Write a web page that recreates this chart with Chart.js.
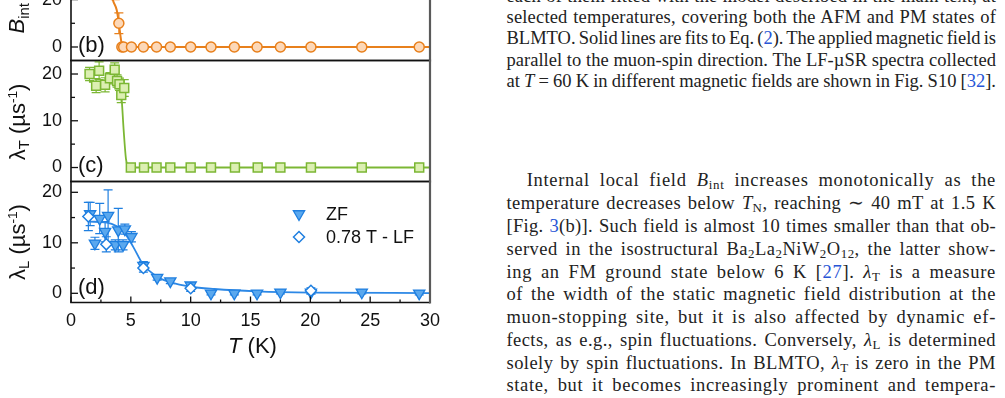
<!DOCTYPE html>
<html><head><meta charset="utf-8">
<script src="https://cdn.jsdelivr.net/npm/chart.js@4.4.1/dist/chart.umd.min.js"></script>
<style>
html,body{margin:0;padding:0;background:#fff;}
body{width:1005px;height:398px;overflow:hidden;position:relative;}
canvas{position:absolute;left:0;}
.lbl{position:absolute;font-family:"Liberation Sans",Arial,sans-serif;color:#111;white-space:nowrap;line-height:1;}
.rot{transform:translate(-50%,-50%) rotate(-90deg);}
.ctr{transform:translate(0,-50%);}
.lbl sub{font-size:0.68em;vertical-align:-0.3em;}
.lbl sup{font-size:0.62em;vertical-align:0.55em;}
.tx{position:absolute;font-family:"Liberation Serif","Times New Roman",serif;font-size:18.5px;line-height:18px;color:#222;white-space:nowrap;}
.tx sub{font-size:0.7em;vertical-align:-0.25em;line-height:0;}
.lk{color:#2855d6;}
</style></head>
<body>
<canvas id="cb" width="440" height="146" style="top:-80px"></canvas>
<canvas id="cc" width="440" height="132" style="top:55px"></canvas>
<canvas id="cd" width="440" height="160" style="top:176px"></canvas>

<div class="lbl rot" style="left:19px;top:-8px;font-size:22px"><i>B</i><sub>int</sub> (mT)</div>
<div class="lbl rot" style="left:19px;top:122px;font-size:22px">λ<sub>T</sub> (µs<sup>-1</sup>)</div>
<div class="lbl rot" style="left:19px;top:242px;font-size:22px">λ<sub>L</sub> (µs<sup>-1</sup>)</div>
<div class="lbl ctr" style="left:78px;top:45px;font-size:22px">(b)</div>
<div class="lbl ctr" style="left:78px;top:165px;font-size:22px">(c)</div>
<div class="lbl ctr" style="left:78px;top:287px;font-size:22px">(d)</div>
<div class="lbl" style="left:228px;top:335px;font-size:22px"><i>T</i> (K)</div>

<div id="txt"></div>

<script>
// ---------------- data ----------------
const xTicks = [0, 5, 10, 15, 20, 25, 30];
const xMinor = [2.5, 7.5, 12.5, 17.5, 22.5, 27.5];
const bTicks = [0, 20, 40];
const bMinor = [10, 30];
const cTicks = [0, 10, 20];
const cMinor = [5, 15];
const dTicks = [0, 10, 20];
const dMinor = [5, 15];

// (b) internal field B_int (mT)
const bT   = [1.5, 2.0, 2.5, 3.0, 3.4, 3.7, 4.0, 4.25, 4.4, 5.05, 6.05, 7.15, 8.3, 10.0, 11.7, 13.65, 15.55, 17.5, 20.05, 24.3, 29.1];
const bB   = [40.5, 39.0, 37.0, 34.5, 30.0, 24.5, 10.0, 0, 0, 0, 0, 0, 0, 0, 0, 0, 0, 0, 0, 0, 0];
const bErr = [1.5, 1.5, 1.8, 2.0, 3.0, 4.5, 4.4, 0, 0, 0, 0, 0, 0, 0, 0, 0, 0, 0, 0, 0, 0];
const bFitT = [1.5, 2.5, 3.0, 3.5, 3.82, 4.0, 4.18, 4.32, 30];
const bFitB = [40.5, 37.5, 32.5, 19.8, 15.6, 10.0, 3.0, 0, 0];

// (c) transverse relaxation rate lambda_T (us^-1)
const cT   = [1.55, 2.1, 2.35, 2.85, 3.25, 3.65, 3.85, 4.05, 4.2, 4.45, 5.0, 6.1, 7.15, 8.3, 10.0, 11.7, 13.7, 15.6, 17.5, 20.05, 24.3, 29.1];
const cL   = [20.0, 17.5, 20.7, 17.7, 19.1, 20.9, 18.5, 17.8, 15.5, 17.0, 0, 0, 0, 0, 0, 0, 0, 0, 0, 0, 0, 0];
const cErr = [1.4, 1.5, 1.9, 1.5, 1.2, 1.5, 1.3, 1.3, 1.6, 1.8, 0, 0, 0, 0, 0, 0, 0, 0, 0, 0, 0, 0];
const cFitT = [1.5, 3.5, 4.0, 4.15, 4.23, 4.4, 4.59, 4.7, 4.85, 30];
const cFitL = [18.3, 18.2, 17.6, 16.5, 14.8, 8.0, 1.9, 0.6, 0, 0];

// (d) longitudinal relaxation rate lambda_L (us^-1)
const dT   = [1.6, 2.0, 2.4, 2.85, 3.1, 3.7, 3.95, 4.35, 4.5, 5.05, 6.05, 7.2, 8.3, 10.0, 11.7, 13.65, 15.55, 17.5, 20.05, 24.3, 29.1];
const dL   = [15.7, 9.9, 14.8, 12.2, 15.4, 9.6, 12.5, 9.6, 12.7, 11.2, 5.5, 3.1, 2.4, 1.6, 0.0, 0.0, 0.0, 0.2, 0.2, 0.2, 0.0];
const dErr = [2.3, 1.2, 3.0, 2.0, 5.1, 1.0, 4.3, 1.0, 1.0, 1.0, 0.8, 0.5, 0.5, 0.5, 0.3, 0.3, 0.3, 0.3, 0.3, 0.3, 0.3];
const eT   = [1.45, 2.95, 6.05, 10.0, 20.05];
const eL   = [15.2, 9.7, 5.0, 1.0, 0.5];
const eErr = [2.8, 1.5, 0.8, 0.6, 0.6];
const dFitT = [1.5, 3.0, 3.8, 4.4, 5.2, 6.0, 7.2, 8.3, 10, 12, 15.5, 20, 30];
const dFitL = [14.2, 14.0, 13.3, 12.2, 9.2, 5.8, 3.3, 2.2, 1.3, 0.85, 0.4, 0.15, 0.05];

const legendLabels = ['ZF', '0.78 T - LF'];

// ---------------- helpers ----------------
const pts = (xs, ys) => xs.map((v, i) => ({x: v, y: ys[i]}));
Chart.defaults.font.family = '"Liberation Sans", Arial, sans-serif';
Chart.defaults.color = '#111';

const framePlugin = {
  id: 'frame',
  afterDraw(chart, args, o) {
    const {ctx, chartArea: a, scales} = chart;
    const ys = scales.y, xs = scales.x;
    ctx.save();
    ctx.strokeStyle = '#111';
    ctx.lineWidth = 1.3;
    const hl = (x1, y1, x2, y2) => { ctx.beginPath(); ctx.moveTo(x1, y1); ctx.lineTo(x2, y2); ctx.stroke(); };
    (o.yMajor || []).forEach(v => { const p = ys.getPixelForValue(v); if (p >= a.top && p <= a.bottom) hl(a.left, p, a.left + 7, p); });
    (o.yMinor || []).forEach(v => { const p = ys.getPixelForValue(v); if (p >= a.top && p <= a.bottom) hl(a.left, p, a.left + 4, p); });
    if (o.xAxis) {
      xTicks.forEach(v => { const p = xs.getPixelForValue(v); hl(p, a.bottom, p, a.bottom - 6); });
      xMinor.forEach(v => { const p = xs.getPixelForValue(v); hl(p, a.bottom, p, a.bottom - 3); });
    }
    ctx.lineWidth = 1.6;
    hl(a.left, a.top, a.left, a.bottom);
    hl(a.left - 0.8, a.bottom, a.right, a.bottom);
    hl(a.left - 0.8, a.top, a.right, a.top);
    ctx.strokeStyle = '#5a5a5a';
    ctx.lineWidth = 2.2;
    hl(a.right, a.top - 1, a.right, a.bottom + 1);
    ctx.restore();
  }
};

const errPlugin = {
  id: 'errbars',
  beforeDatasetsDraw(chart, args, o) {
    const {ctx, chartArea: a, scales: {x, y}} = chart;
    ctx.save();
    ctx.beginPath(); ctx.rect(a.left, a.top, a.right - a.left, a.bottom - a.top); ctx.clip();
    (o.sets || []).forEach(s => {
      ctx.strokeStyle = s.color; ctx.lineWidth = 1.2;
      s.xs.forEach((xv, i) => {
        const e = s.err[i]; if (!e) return;
        const px = x.getPixelForValue(xv);
        const p1 = y.getPixelForValue(s.ys[i] - e), p2 = y.getPixelForValue(s.ys[i] + e);
        ctx.beginPath();
        ctx.moveTo(px, p1); ctx.lineTo(px, p2);
        ctx.moveTo(px - 4.5, p1); ctx.lineTo(px + 4.5, p1);
        ctx.moveTo(px - 4.5, p2); ctx.lineTo(px + 4.5, p2);
        ctx.stroke();
      });
    });
    ctx.restore();
  }
};

const legendPlugin = {
  id: 'inlegend',
  afterDatasetsDraw(chart, args, o) {
    if (!o.items) return;
    const {ctx, chartArea: a} = chart;
    o.items.forEach((it, i) => {
      const px = a.left + o.dx, py = a.top + o.dy + i * o.gap;
      ctx.save();
      ctx.fillStyle = it.fill; ctx.strokeStyle = it.stroke; ctx.lineWidth = it.bw;
      Chart.helpers.drawPoint(ctx, {pointStyle: it.style, rotation: it.rot || 0, radius: it.r, borderWidth: it.bw}, px, py);
      ctx.fillStyle = '#111';
      ctx.font = '18px "Liberation Sans", Arial, sans-serif';
      ctx.textBaseline = 'middle';
      ctx.fillText(it.text, a.left + o.tx, py + 1);
      ctx.restore();
    });
  }
};

function makeChart(id, cfg) {
  return new Chart(document.getElementById(id), {
    type: 'scatter',
    data: {datasets: cfg.datasets},
    plugins: [errPlugin, framePlugin, legendPlugin],
    options: {
      responsive: false, animation: false,
      layout: {autoPadding: false, padding: {top: cfg.padTop, bottom: cfg.padBottom, left: 0, right: 10}},
      plugins: {
        legend: {display: false}, tooltip: {enabled: false},
        frame: {yMajor: cfg.yTicks, yMinor: cfg.yMinor, xAxis: cfg.showX},
        errbars: {sets: cfg.err},
        inlegend: cfg.legend || {}
      },
      scales: {
        x: {
          type: 'linear', min: 0, max: 30, display: cfg.showX,
          afterBuildTicks: s => { s.ticks = xTicks.map(v => ({value: v})); },
          afterFit: s => { if (cfg.xHeight) s.height = cfg.xHeight; s.paddingLeft = 0; s.paddingRight = 0; },
          grid: {display: false, drawTicks: false}, border: {display: false},
          ticks: {font: {size: 18}, color: '#111', padding: 8, maxRotation: 0, autoSkip: false}
        },
        y: {
          type: 'linear', min: cfg.yMin, max: cfg.yMax,
          afterBuildTicks: s => { s.ticks = cfg.yTicks.map(v => ({value: v})); },
          afterFit: s => { s.width = 71; s.paddingTop = 0; s.paddingBottom = 0; },
          grid: {display: false, drawTicks: false}, border: {display: false},
          ticks: {font: {size: 18}, color: '#111', padding: 9}
        }
      }
    }
  });
}

const ORANGE = '#e8801c', ORANGE_F = '#fcd8b8';
const GREEN = '#7cb734', GREEN_F = '#dcefb2';
const BLUE = '#1f7fe0', BLUE_F = '#5aa8ee', BLUE_L = '#2c88e6';

makeChart('cb', {
  padTop: 8.5, padBottom: 5.5, showX: false,
  yMin: -5.70, yMax: 50.0, yTicks: bTicks, yMinor: bMinor,
  err: [{xs: bT, ys: bB, err: bErr, color: ORANGE}],
  datasets: [
    {data: pts(bT, bB), pointStyle: 'circle', pointRadius: 5, backgroundColor: ORANGE_F, borderColor: ORANGE, borderWidth: 1.5, order: 1},
    {data: pts(bFitT, bFitB), showLine: true, pointRadius: 0, borderColor: ORANGE, borderWidth: 2, cubicInterpolationMode: 'monotone', order: 2}
  ]
});

makeChart('cc', {
  padTop: 5.5, padBottom: 5.5, showX: false,
  yMin: -2.99, yMax: 22.89, yTicks: cTicks, yMinor: cMinor,
  err: [{xs: cT, ys: cL, err: cErr, color: GREEN}],
  datasets: [
    {data: pts(cT, cL), pointStyle: 'rect', pointRadius: 6.3, backgroundColor: GREEN_F, borderColor: GREEN, borderWidth: 1.5, order: 1},
    {data: pts(cFitT, cFitL), showLine: true, pointRadius: 0, borderColor: GREEN, borderWidth: 1.8, cubicInterpolationMode: 'monotone', order: 2}
  ]
});

makeChart('cd', {
  padTop: 5.5, padBottom: 0, showX: true, xHeight: 33.5,
  yMin: -1.82, yMax: 22.14, yTicks: dTicks, yMinor: dMinor,
  err: [{xs: dT, ys: dL, err: dErr, color: BLUE}, {xs: eT, ys: eL, err: eErr, color: BLUE}],
  legend: {dx: 228, dy: 32.5, gap: 23, tx: 255, items: [
    {text: legendLabels[0], style: 'triangle', rot: 180, r: 6.5, fill: BLUE_F, stroke: BLUE, bw: 1.3},
    {text: legendLabels[1], style: 'rectRot', r: 5.5, fill: '#fff', stroke: BLUE, bw: 1.5}
  ]},
  datasets: [
    {data: pts(eT, eL), pointStyle: 'rectRot', pointRadius: 5.5, backgroundColor: '#fff', borderColor: BLUE, borderWidth: 1.5, order: 1},
    {data: pts(dT, dL), pointStyle: 'triangle', rotation: 180, pointRadius: 6.5, backgroundColor: BLUE_F, borderColor: BLUE, borderWidth: 1.3, order: 2},
    {data: pts(dFitT, dFitL), showLine: true, pointRadius: 0, borderColor: BLUE_L, borderWidth: 1.8, cubicInterpolationMode: 'monotone', order: 3}
  ]
});

// ---------------- body text on the right ----------------
const L = 506.5, R = 996;
const lines = [
  {b: 2.0,   x: L, h: 'each of them fitted with the model described in the main text, at'},
  {b: 23.3,  x: L, h: 'selected temperatures, covering both the AFM and PM states of'},
  {b: 44.6,  x: L, h: 'BLMTO. Solid lines are fits to Eq. (<span class="lk">2</span>). The applied magnetic field is'},
  {b: 65.9,  x: L, h: 'parallel to the muon-spin direction. The LF-µSR spectra collected'},
  {b: 87.2,  x: L, h: 'at <i>T</i> = 60 K in different magnetic fields are shown in Fig. S10 [<span class="lk">32</span>].'},
  {b: 186.7, x: 526.7, h: 'Internal local field <i>B</i><sub>int</sub> increases monotonically as the'},
  {b: 209.5, x: L, h: 'temperature decreases below <i>T</i><sub>N</sub>, reaching ∼ 40 mT at 1.5 K'},
  {b: 232.3, x: L, h: '[Fig. <span class="lk">3</span>(b)]. Such field is almost 10 times smaller than that ob-'},
  {b: 255.0, x: L, h: 'served in the isostructural Ba<sub>2</sub>La<sub>2</sub>NiW<sub>2</sub>O<sub>12</sub>, the latter show-'},
  {b: 277.8, x: L, h: 'ing an FM ground state below 6 K [<span class="lk">27</span>]. <i>λ</i><sub>T</sub> is a measure'},
  {b: 300.6, x: L, h: 'of the width of the static magnetic field distribution at the'},
  {b: 323.4, x: L, h: 'muon-stopping site, but it is also affected by dynamic ef-'},
  {b: 346.2, x: L, h: 'fects, as e.g., spin fluctuations. Conversely, <i>λ</i><sub>L</sub> is determined'},
  {b: 368.9, x: L, h: 'solely by spin fluctuations. In BLMTO, <i>λ</i><sub>T</sub> is zero in the PM'},
  {b: 391.7, x: L, h: 'state, but it becomes increasingly prominent and tempera-'}
];
const host = document.getElementById('txt');
lines.forEach(ln => {
  const d = document.createElement('div');
  d.className = 'tx';
  d.innerHTML = ln.h;
  d.style.left = ln.x + 'px';
  d.style.top = (ln.b - 15.3) + 'px';
  host.appendChild(d);
  const target = R - ln.x;
  let w = d.getBoundingClientRect().width;
  const nChars = d.textContent.length;
  const deficit = target - w;
  if (deficit > 0) {
    const ls = Math.min(deficit * 0.6 / nChars, 0.7);
    d.style.letterSpacing = ls + 'px';
    w = d.getBoundingClientRect().width;
  }
  const n = (d.textContent.match(/ /g) || []).length;
  if (n) d.style.wordSpacing = ((target - w) / n) + 'px';
});
</script>
</body></html>
